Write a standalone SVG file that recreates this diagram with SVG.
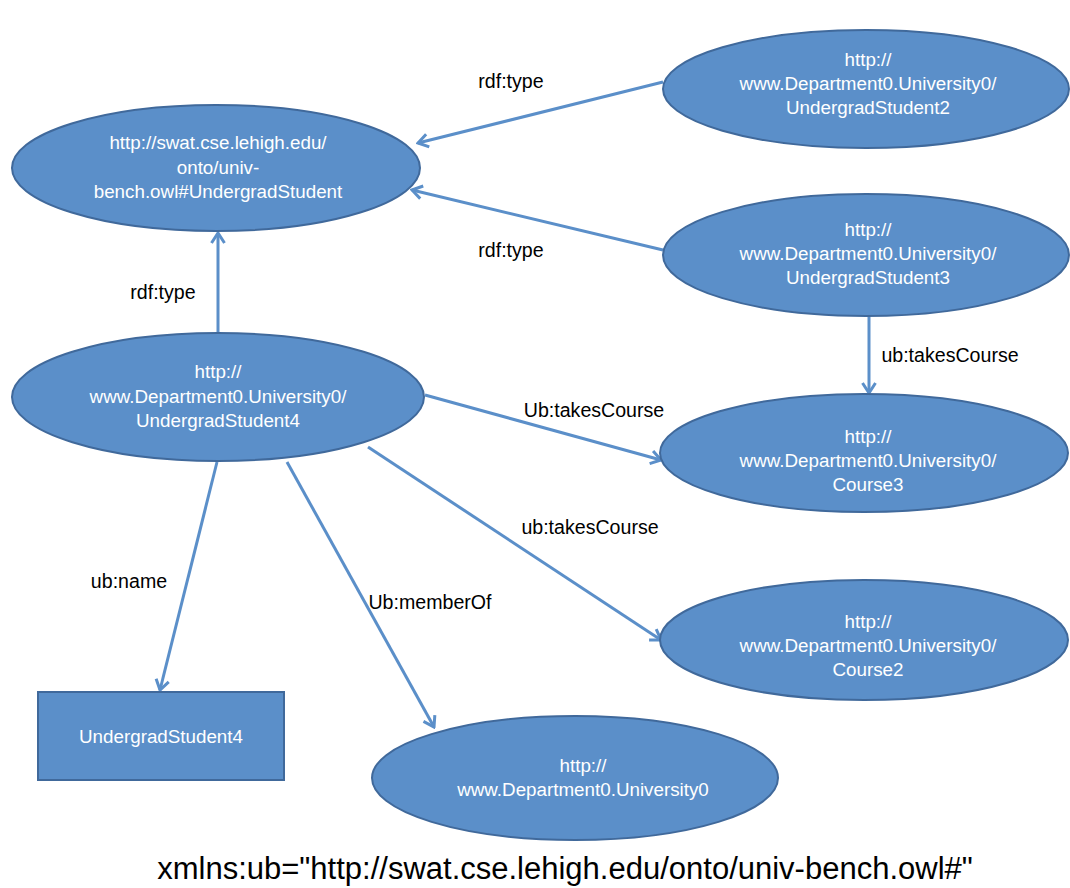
<svg xmlns="http://www.w3.org/2000/svg" width="1070" height="888" viewBox="0 0 1070 888">
<style>
.node{fill:#5b8fc9;stroke:#40699b;stroke-width:2}
.nt{font-family:"Liberation Sans",Arial,sans-serif;font-size:18.8px;fill:#ffffff;text-anchor:middle}
.lbl{font-family:"Liberation Sans",Arial,sans-serif;font-size:19.6px;fill:#000000;text-anchor:middle}
.edge{stroke:#5b8fc9;stroke-width:3;fill:none;marker-end:url(#arr)}
</style>
<defs>
<marker id="arr" viewBox="0 0 14 16" refX="12" refY="8" markerWidth="14" markerHeight="16" markerUnits="userSpaceOnUse" orient="auto">
<path d="M2,1.5 L12,8 L2,14.5" fill="none" stroke="#5b8fc9" stroke-width="3"/>
</marker>
</defs>
<rect width="1070" height="888" fill="#ffffff"/>
<g id="connectors">
<line class="edge" x1="663" y1="82" x2="418" y2="143"/>
<line class="edge" x1="663" y1="250" x2="412" y2="190"/>
<line class="edge" x1="218" y1="333" x2="218" y2="233"/>
<line class="edge" x1="869" y1="316" x2="869" y2="393"/>
<line class="edge" x1="425" y1="395" x2="661" y2="460"/>
<line class="edge" x1="368" y1="447" x2="661" y2="640"/>
<line class="edge" x1="287" y1="462" x2="434" y2="727"/>
<line class="edge" x1="217" y1="462" x2="160" y2="690"/>
<text class="lbl" x="511" y="88">rdf:type</text>
<text class="lbl" x="511" y="257">rdf:type</text>
<text class="lbl" x="163" y="299">rdf:type</text>
<text class="lbl" x="950" y="362">ub:takesCourse</text>
<text class="lbl" x="594" y="417">Ub:takesCourse</text>
<text class="lbl" x="590" y="534">ub:takesCourse</text>
<text class="lbl" x="430" y="609">Ub:memberOf</text>
<text class="lbl" x="129" y="588">ub:name</text>
</g>
<g id="UndergradStudentClass">
<ellipse class="node" cx="216" cy="168" rx="204" ry="63"/>
<text class="nt" x="218" y="149">http://swat.cse.lehigh.edu/</text>
<text class="nt" x="218" y="174">onto/univ-</text>
<text class="nt" x="218" y="198">bench.owl#UndergradStudent</text>
</g>
<g id="UndergradStudent2">
<ellipse class="node" cx="866" cy="89" rx="203" ry="59"/>
<text class="nt" x="868" y="66">http://</text>
<text class="nt" x="868" y="90">www.Department0.University0/</text>
<text class="nt" x="868" y="114">UndergradStudent2</text>
</g>
<g id="UndergradStudent3">
<ellipse class="node" cx="866" cy="255" rx="203" ry="61"/>
<text class="nt" x="868" y="236">http://</text>
<text class="nt" x="868" y="260">www.Department0.University0/</text>
<text class="nt" x="868" y="284">UndergradStudent3</text>
</g>
<g id="UndergradStudent4">
<ellipse class="node" cx="218" cy="397" rx="206" ry="64"/>
<text class="nt" x="218" y="378">http://</text>
<text class="nt" x="218" y="403">www.Department0.University0/</text>
<text class="nt" x="218" y="427">UndergradStudent4</text>
</g>
<g id="Course3">
<ellipse class="node" cx="864" cy="453" rx="204" ry="59"/>
<text class="nt" x="868" y="443">http://</text>
<text class="nt" x="868" y="467">www.Department0.University0/</text>
<text class="nt" x="868" y="491">Course3</text>
</g>
<g id="Course2">
<ellipse class="node" cx="864" cy="640" rx="204" ry="60"/>
<text class="nt" x="868" y="628">http://</text>
<text class="nt" x="868" y="652">www.Department0.University0/</text>
<text class="nt" x="868" y="676">Course2</text>
</g>
<g id="University0">
<ellipse class="node" cx="575" cy="778" rx="203" ry="62"/>
<text class="nt" x="583" y="772">http://</text>
<text class="nt" x="583" y="796">www.Department0.University0</text>
</g>
<g id="UndergradStudent4Literal">
<rect class="node" x="38" y="692" width="246" height="88"/>
<text class="nt" x="161" y="743">UndergradStudent4</text>
</g>
<text x="565" y="879" font-family="'Liberation Sans',Arial,sans-serif" font-size="31" fill="#000000" text-anchor="middle">xmlns:ub="http://swat.cse.lehigh.edu/onto/univ-bench.owl#"</text>
</svg>
